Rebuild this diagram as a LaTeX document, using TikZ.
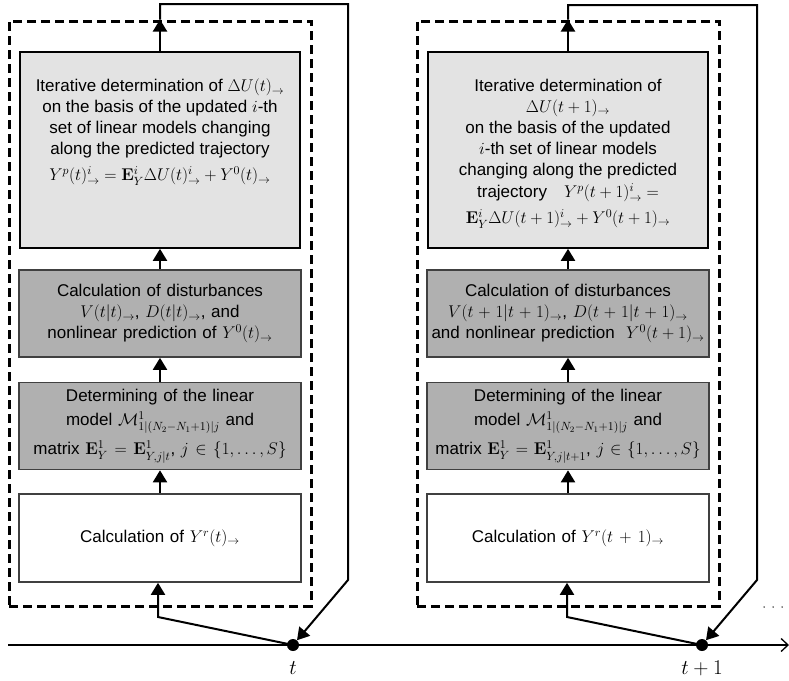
\RequirePackage{fix-cm}
\documentclass[tikz,border=0pt]{standalone}
\usepackage{amsmath,amssymb}
\usepackage[no-math]{fontspec}
\setmainfont{Liberation Sans}
\usetikzlibrary{arrows.meta}

\begin{document}
\begin{tikzpicture}
  [x=1pt,y=1pt,
   every node/.style={font=\fontsize{17}{21}\selectfont},
   topbox/.style={rectangle,draw=black,line width=1.6pt,fill=gray!22,inner sep=0pt},
   box/.style={rectangle,line width=1.6pt,minimum width=282pt,inner sep=0pt,
     text width=280pt,align=center},
   midbox/.style={box,draw=black!75,fill=black!31,minimum height=87pt},
   lowbox/.style={box,draw=black!75,fill=white,minimum height=88pt},
   stageframe/.style={rectangle,draw=black,line width=3pt,dash pattern=on 9pt off 5pt,
     minimum width=302pt,minimum height=585pt,inner sep=0pt},
   dot/.style={circle,fill=black,inner sep=0pt,minimum size=12pt},
   flow/.style={line width=2pt,-{Triangle[length=12pt,width=14pt]}},
   tlabel/.style={font=\fontsize{21}{24}\selectfont}]
\useasboundingbox (0,0) rectangle (789,-680);

% dashed frames
\node (fr1)[stageframe] at (160,-313.5) {};
\node (fr2)[stageframe] at (568,-313.5) {};

% column t
\node (ite1)[topbox] at (160,-150) {\parbox[c][196pt][t]{280pt}{\centering\vspace*{27pt}%
  Iterative determination of $\Delta U(t)_{\rightarrow}$\\
  on the basis of the updated $i$-th\\
  set of linear models changing\\
  along the predicted trajectory\\[5pt]
  $Y^{p}(t)^{i}_{\rightarrow}=\mathbf{E}^{i}_{Y}\Delta U(t)^{i}_{\rightarrow}+Y^{0}(t)_{\rightarrow}$}};
\node (dis1)[midbox] at (160,-313.5) {Calculation of disturbances\\
  $V(t|t)_{\rightarrow}$, $D(t|t)_{\rightarrow}$, and\\
  nonlinear prediction of $Y^{0}(t)_{\rightarrow}$};
\node (det1)[midbox] at (160,-426) {Determining of the linear\\[3pt]
  model $\mathcal{M}^{1}_{1|(N_2-N_1+1)|j}$ and\\[6pt]
  matrix $\mathbf{E}^{1}_{Y}=\mathbf{E}^{1}_{Y,j|t}$,\ $j\in\{1,\ldots,S\}$};
\node (cal1)[lowbox] at (160,-538) {Calculation of $Y^{r}(t)_{\rightarrow}$};

% column t+1
\node (ite2)[topbox] at (568,-150) {\parbox[c][196pt][t]{280pt}{\centering\vspace*{27pt}%
  Iterative determination of\\
  $\Delta U(t+1)_{\rightarrow}$\\
  on the basis of the updated\\
  $i$-th set of linear models\\
  changing along the predicted\\[1pt]
  trajectory\quad$Y^{p}(t+1)^{i}_{\rightarrow}=$\\[5pt]
  $\mathbf{E}^{i}_{Y}\Delta U(t+1)^{i}_{\rightarrow}+Y^{0}(t+1)_{\rightarrow}$}};
\node (dis2)[midbox] at (568,-313.5) {Calculation of disturbances\\
  $V(t+1|t+1)_{\rightarrow}$, $D(t+1|t+1)_{\rightarrow}$\\
  and nonlinear prediction\ \ $Y^{0}(t+1)_{\rightarrow}$};
\node (det2)[midbox] at (568,-426) {Determining of the linear\\[3pt]
  model $\mathcal{M}^{1}_{1|(N_2-N_1+1)|j}$ and\\[6pt]
  matrix $\mathbf{E}^{1}_{Y}=\mathbf{E}^{1}_{Y,j|t+1}$,\ $j\in\{1,\ldots,S\}$};
\node (cal2)[lowbox] at (568,-538) {Calculation of $Y^{r}(t+1)_{\rightarrow}$};

% time axis
\coordinate (ax0) at (8,-645);
\coordinate (ax1) at (789,-645);
\draw[line width=1.3pt,-{Straight Barb[length=7pt,width=13pt]}] (ax0) -- (ax1);
\node (d1)[dot] at (293,-645) {};
\node (d2)[dot] at (702,-645) {};
\node (tl1)[tlabel] at (293,-668) {$t$};
\node (tl2)[tlabel] at (702,-668) {$t+1$};
\draw[line width=1.5pt,line cap=round,dash pattern=on 0pt off 9pt] (764,-607) -- (789,-607);

\foreach \from/\to in {cal1/det1,det1/dis1,dis1/ite1,cal2/det2,det2/dis2,dis2/ite2}
    \draw[flow] (\from) -- (\to);

% feedback loops
\coordinate (b1) at (158,-617);
\coordinate (b2) at (567,-617);
\draw[flow] (ite1.north) -- (ite1 |- fr1.north);
\draw[flow] (ite2.north) -- (ite2 |- fr2.north);
\draw[flow] (ite1 |- fr1.north) |- (348,-4) -- (348,-580) -- (d1);
\draw[flow] (ite2 |- fr2.north) |- (757,-5) -- (757,-580) -- (d2);
\draw[flow] (d1.center) -- (b1) -- (b1 |- cal1.south);
\draw[flow] (d2.center) -- (b2) -- (b2 |- cal2.south);
\end{tikzpicture}
\end{document}
